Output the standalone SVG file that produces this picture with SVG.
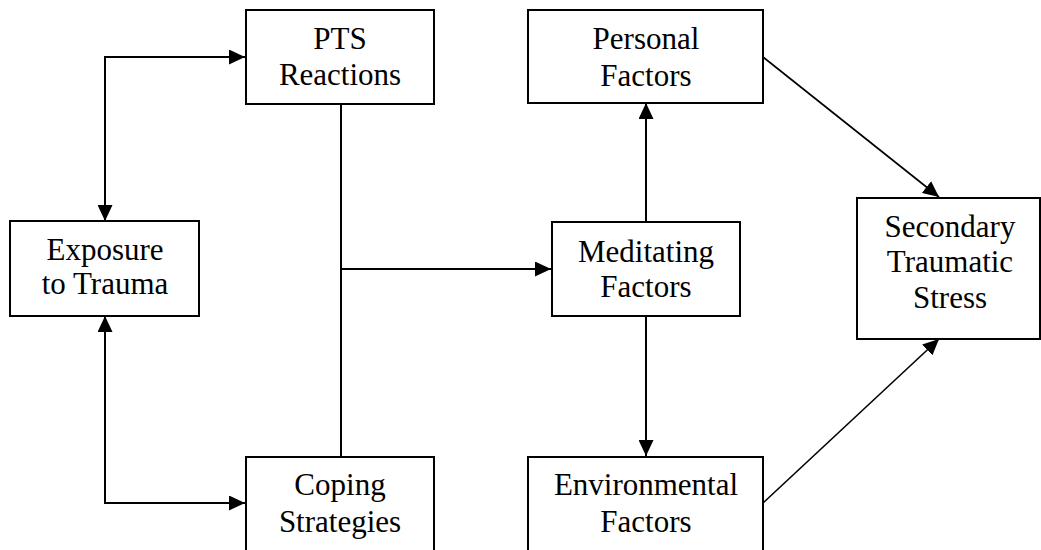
<svg xmlns="http://www.w3.org/2000/svg" width="1041" height="550" viewBox="0 0 1041 550">
<style>
.box{fill:#fff;stroke:#000;stroke-width:2}
.lbl{font-family:"Liberation Serif","Times New Roman",serif;font-size:31px;fill:#000;text-anchor:middle}
.c{fill:none;stroke:#000;stroke-width:2}
.d{fill:none;stroke:#000;stroke-width:1.6}
</style>
<defs>
<marker id="ah" markerUnits="userSpaceOnUse" markerWidth="17" markerHeight="15" refX="16" refY="7.5" orient="auto-start-reverse" viewBox="0 0 17 15">
<path d="M0,0 L16,7.5 L0,15 z" fill="#000"/>
</marker>
</defs>
<rect width="1041" height="550" fill="#fff"/>
<g id="connectors">
<path class="c" d="M105,221 V57 H245" marker-start="url(#ah)" marker-end="url(#ah)"/>
<path class="c" d="M105,316 V503 H245" marker-start="url(#ah)" marker-end="url(#ah)"/>
<path class="c" d="M341,104 V457"/>
<path class="c" d="M341,269 H551" marker-end="url(#ah)"/>
<path class="c" d="M646,222 V103" marker-end="url(#ah)"/>
<path class="c" d="M646,316 V456" marker-end="url(#ah)"/>
<path class="d" d="M763,57 L939,197" marker-end="url(#ah)"/>
<path class="d" d="M763,503 L939,339" marker-end="url(#ah)"/>
</g>
<g id="exposure">
<rect class="box" x="10" y="221" width="189" height="95"/>
<text class="lbl" x="105" y="260">Exposure</text>
<text class="lbl" x="105" y="294">to Trauma</text>
</g>
<g id="pts">
<rect class="box" x="246" y="10" width="188" height="94"/>
<text class="lbl" x="340" y="49">PTS</text>
<text class="lbl" x="340" y="85">Reactions</text>
</g>
<g id="coping">
<rect class="box" x="246" y="457" width="188" height="96"/>
<text class="lbl" x="340" y="495">Coping</text>
<text class="lbl" x="340" y="532">Strategies</text>
</g>
<g id="meditating">
<rect class="box" x="552" y="222" width="188" height="94"/>
<text class="lbl" x="646" y="262">Meditating</text>
<text class="lbl" x="646" y="297">Factors</text>
</g>
<g id="personal">
<rect class="box" x="528" y="10" width="235" height="93"/>
<text class="lbl" x="646" y="49">Personal</text>
<text class="lbl" x="646" y="86">Factors</text>
</g>
<g id="environmental">
<rect class="box" x="528" y="457" width="235" height="96"/>
<text class="lbl" x="646" y="495">Environmental</text>
<text class="lbl" x="646" y="532">Factors</text>
</g>
<g id="secondary">
<rect class="box" x="857" y="198" width="183" height="141"/>
<text class="lbl" x="950" y="237">Secondary</text>
<text class="lbl" x="950" y="272">Traumatic</text>
<text class="lbl" x="950" y="308">Stress</text>
</g>
</svg>
